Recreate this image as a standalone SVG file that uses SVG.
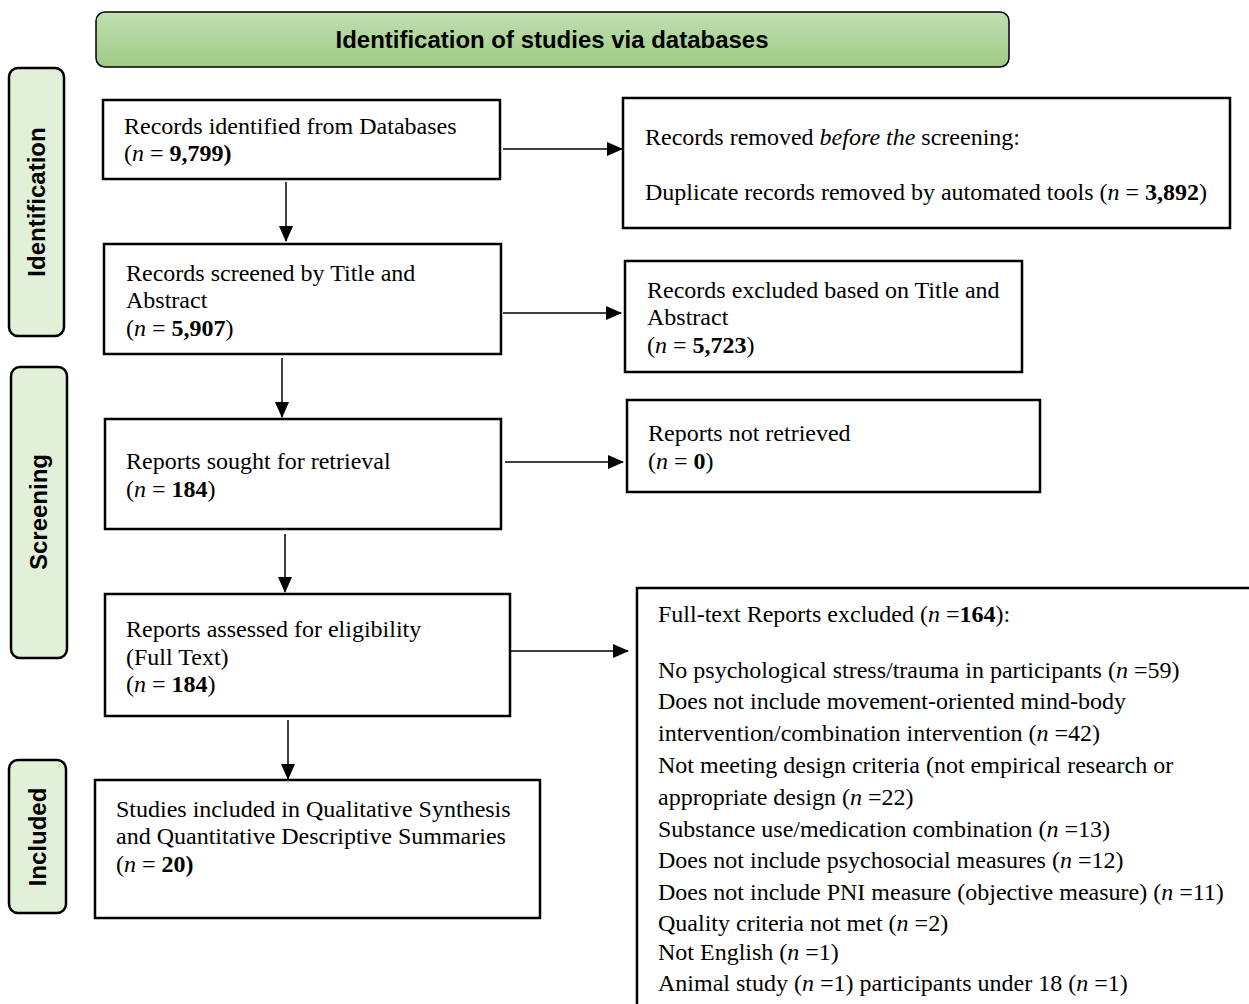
<svg xmlns="http://www.w3.org/2000/svg" width="1249" height="1004" viewBox="0 0 1249 1004">
<style>
.box{fill:#fff;stroke:#000;stroke-width:2.5}
.side{fill:#e2efd9;stroke:#000;stroke-width:2.5}
.t{font-family:"Liberation Serif","Times New Roman",serif;font-size:24px;fill:#000}
.st{font-family:"Liberation Sans",Arial,sans-serif;font-size:24px;font-weight:bold;fill:#000}
.c{stroke:#000;stroke-width:1.5;fill:none}
</style>
<defs>
<linearGradient id="g" x1="0" y1="0" x2="0" y2="1">
<stop offset="0" stop-color="#c1dfb2"/>
<stop offset="1" stop-color="#9fcb85"/>
</linearGradient>
<marker id="a" markerWidth="16" markerHeight="14" refX="15" refY="7" orient="auto" markerUnits="userSpaceOnUse">
<path d="M0,0 L16,7 L0,14 Z" fill="#000"/>
</marker>
</defs>
<rect width="1249" height="1004" fill="#fff"/>

<g id="header">
<rect x="96" y="12" width="913" height="55" rx="9" fill="url(#g)" stroke="#000" stroke-width="1.5"/>
<text class="st" x="552" y="48" text-anchor="middle" font-size="22" textLength="433" lengthAdjust="spacingAndGlyphs">Identification of studies via databases</text>
</g>

<g id="side-identification">
<rect class="side" x="9" y="68" width="55" height="268" rx="9"/>
<text class="st" transform="translate(45,202) rotate(-90)" text-anchor="middle">Identification</text>
</g>
<g id="side-screening">
<rect class="side" x="11" y="367" width="56" height="291" rx="9"/>
<text class="st" transform="translate(47,512) rotate(-90)" text-anchor="middle">Screening</text>
</g>
<g id="side-included">
<rect class="side" x="9" y="760" width="57" height="153" rx="9"/>
<text class="st" transform="translate(46,837) rotate(-90)" text-anchor="middle">Included</text>
</g>

<g id="connectors">
<line class="c" x1="503" y1="149" x2="622" y2="149" marker-end="url(#a)"/>
<line class="c" x1="286" y1="182" x2="286" y2="241" marker-end="url(#a)"/>
<line class="c" x1="503" y1="313" x2="621" y2="313" marker-end="url(#a)"/>
<line class="c" x1="282" y1="358" x2="282" y2="417" marker-end="url(#a)"/>
<line class="c" x1="505" y1="462" x2="623" y2="462" marker-end="url(#a)"/>
<line class="c" x1="285" y1="534" x2="285" y2="592" marker-end="url(#a)"/>
<line class="c" x1="511" y1="651" x2="628" y2="651" marker-end="url(#a)"/>
<line class="c" x1="288" y1="720" x2="288" y2="779" marker-end="url(#a)"/>
</g>

<g id="n1">
<rect class="box" x="103" y="100" width="397" height="79"/>
<text class="t" x="124" y="134">Records identified from Databases</text>
<text class="t" x="124" y="161">(<tspan font-style="italic">n</tspan> = <tspan font-weight="bold">9,799)</tspan></text>
</g>
<g id="n2">
<rect class="box" x="623" y="98" width="607" height="130"/>
<text class="t" x="645" y="145">Records removed <tspan font-style="italic">before the</tspan> screening:</text>
<text class="t" x="645" y="200">Duplicate records removed by automated tools (<tspan font-style="italic">n</tspan> = <tspan font-weight="bold">3,892</tspan>)</text>
</g>
<g id="n3">
<rect class="box" x="104" y="244" width="397" height="110"/>
<text class="t" x="126" y="281">Records screened by Title and</text>
<text class="t" x="126" y="308">Abstract</text>
<text class="t" x="126" y="336">(<tspan font-style="italic">n</tspan> = <tspan font-weight="bold">5,907</tspan>)</text>
</g>
<g id="n4">
<rect class="box" x="625" y="261" width="397" height="111"/>
<text class="t" x="647" y="298">Records excluded based on Title and</text>
<text class="t" x="647" y="325">Abstract</text>
<text class="t" x="647" y="353">(<tspan font-style="italic">n</tspan> = <tspan font-weight="bold">5,723</tspan>)</text>
</g>
<g id="n5">
<rect class="box" x="105" y="419" width="396" height="110"/>
<text class="t" x="126" y="469">Reports sought for retrieval</text>
<text class="t" x="126" y="497">(<tspan font-style="italic">n</tspan> = <tspan font-weight="bold">184</tspan>)</text>
</g>
<g id="n6">
<rect class="box" x="627" y="400" width="413" height="92"/>
<text class="t" x="648" y="441">Reports not retrieved</text>
<text class="t" x="648" y="469">(<tspan font-style="italic">n</tspan> = <tspan font-weight="bold">0</tspan>)</text>
</g>
<g id="n7">
<rect class="box" x="105" y="594" width="405" height="122"/>
<text class="t" x="126" y="637">Reports assessed for eligibility</text>
<text class="t" x="126" y="665">(Full Text)</text>
<text class="t" x="126" y="692">(<tspan font-style="italic">n</tspan> = <tspan font-weight="bold">184</tspan>)</text>
</g>
<g id="n8">
<rect class="box" x="637" y="588" width="640" height="440"/>
<text class="t" x="658" y="622">Full-text Reports excluded (<tspan font-style="italic">n</tspan> =<tspan font-weight="bold">164</tspan>):</text>
<text class="t" x="658" y="678">No psychological stress/trauma in participants (<tspan font-style="italic">n</tspan> =59)</text>
<text class="t" x="658" y="709">Does not include movement-oriented mind-body</text>
<text class="t" x="658" y="741">intervention/combination intervention (<tspan font-style="italic">n</tspan> =42)</text>
<text class="t" x="658" y="773">Not meeting design criteria (not empirical research or</text>
<text class="t" x="658" y="805">appropriate design (<tspan font-style="italic">n</tspan> =22)</text>
<text class="t" x="658" y="837">Substance use/medication combination (<tspan font-style="italic">n</tspan> =13)</text>
<text class="t" x="658" y="868">Does not include psychosocial measures (<tspan font-style="italic">n</tspan> =12)</text>
<text class="t" x="658" y="900">Does not include PNI measure (objective measure) (<tspan font-style="italic">n</tspan> =11)</text>
<text class="t" x="658" y="931">Quality criteria not met (<tspan font-style="italic">n</tspan> =2)</text>
<text class="t" x="658" y="960">Not English (<tspan font-style="italic">n</tspan> =1)</text>
<text class="t" x="658" y="991">Animal study (<tspan font-style="italic">n</tspan> =1) participants under 18 (<tspan font-style="italic">n</tspan> =1)</text>
</g>
<g id="n9">
<rect class="box" x="95" y="780" width="445" height="138"/>
<text class="t" x="116" y="817">Studies included in Qualitative Synthesis</text>
<text class="t" x="116" y="844">and Quantitative Descriptive Summaries</text>
<text class="t" x="116" y="872">(<tspan font-style="italic">n</tspan> = <tspan font-weight="bold">20)</tspan></text>
</g>
</svg>
